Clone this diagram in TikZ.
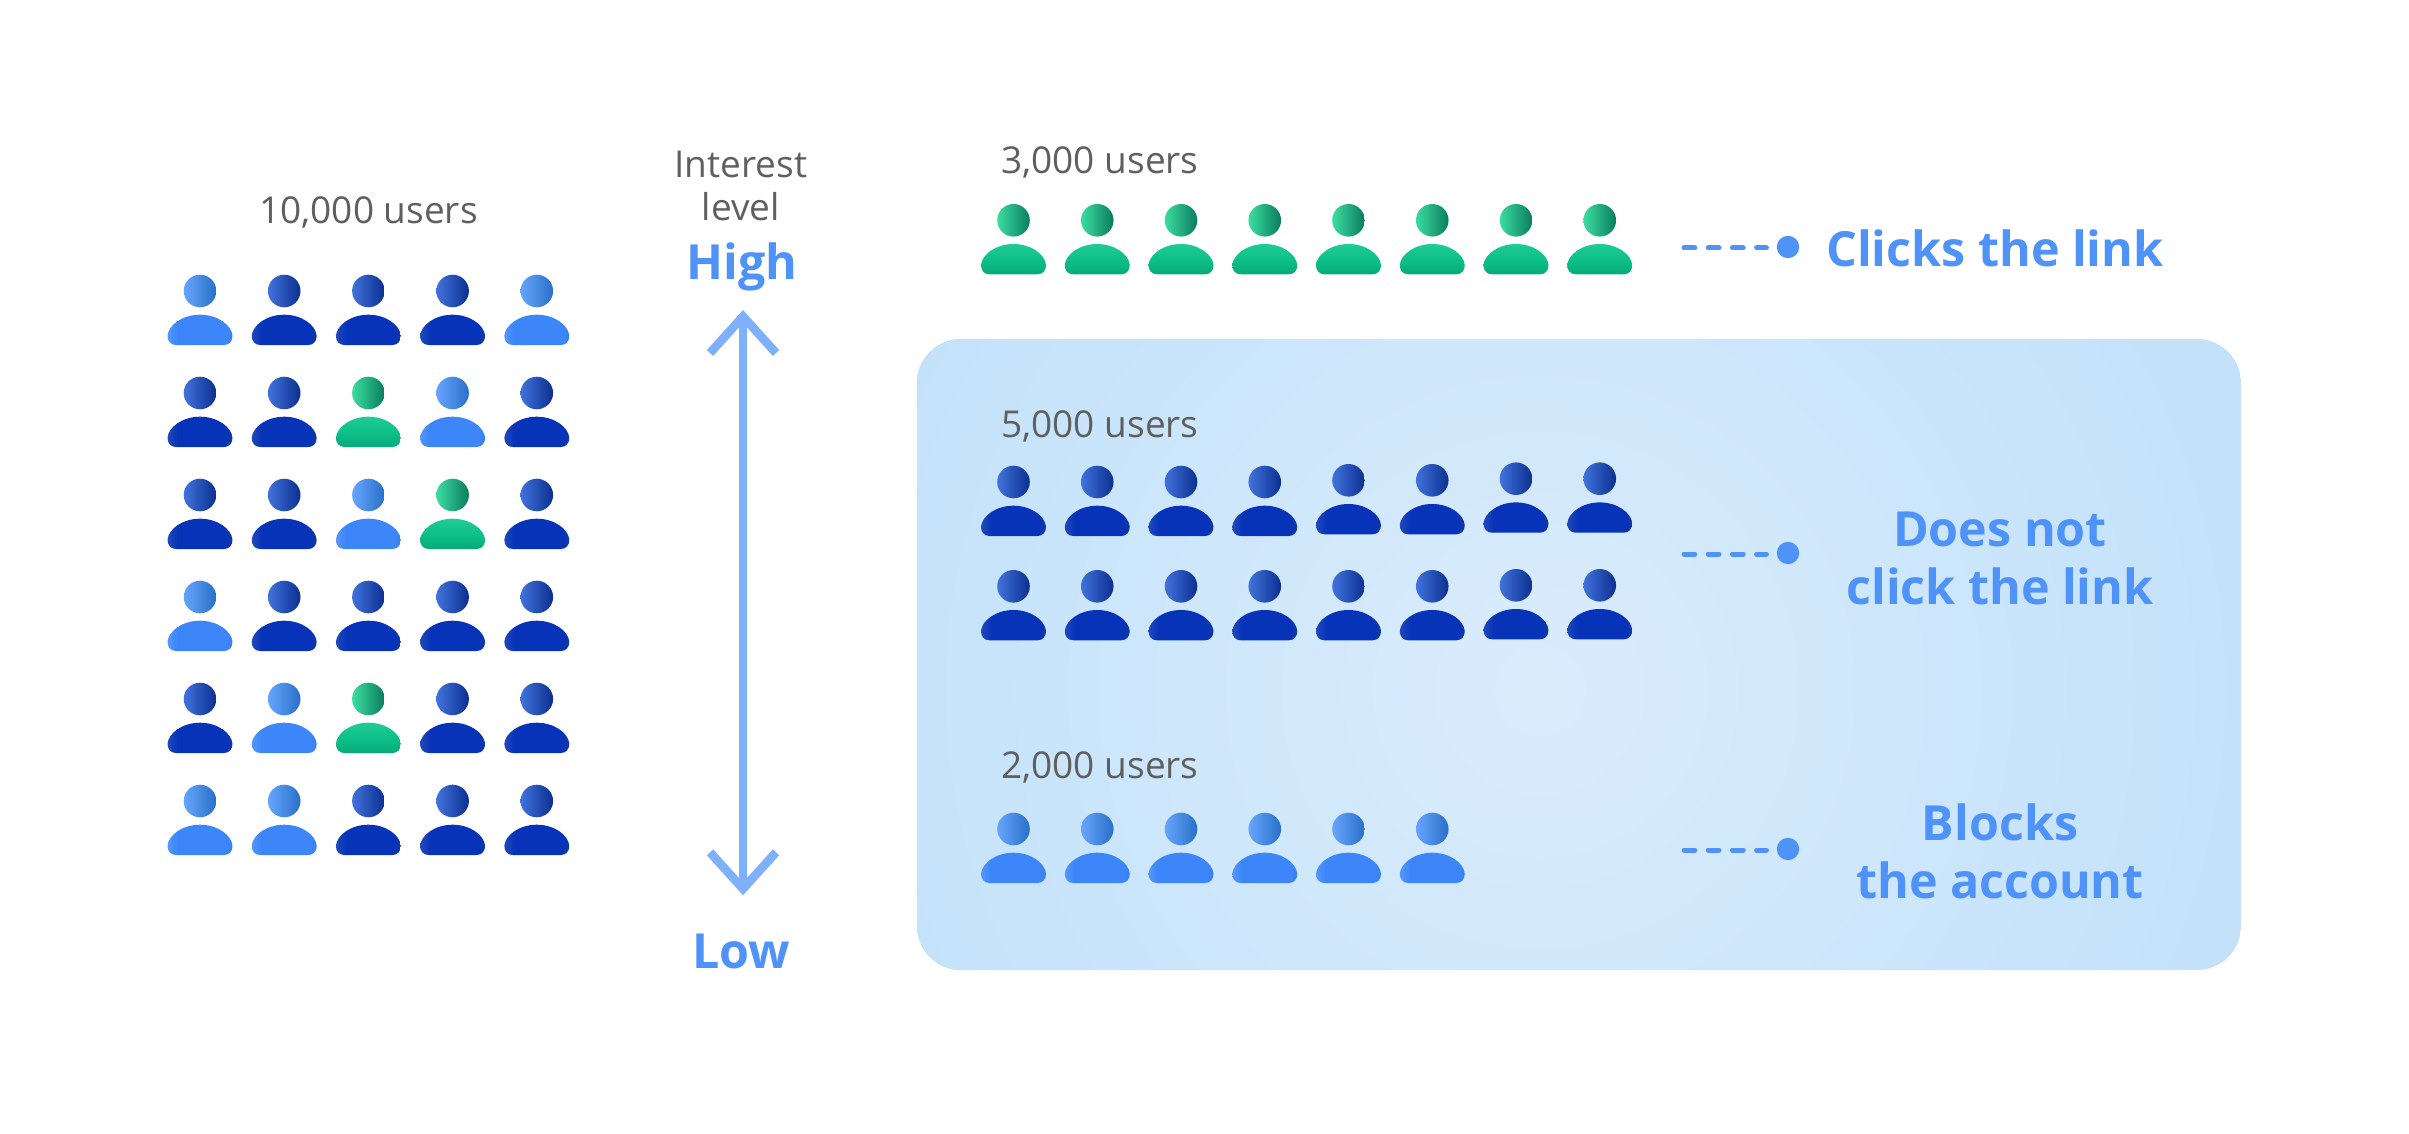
\documentclass[tikz,border=0pt]{standalone}
\usepackage{fontspec}
\setmainfont{Open Sans}
\definecolor{txtgray}{HTML}{5F5F5F}
\definecolor{lblblue}{HTML}{4F92F8}
\definecolor{arrowblue}{HTML}{7FB0FB}
\definecolor{boxedge}{HTML}{C3E2FA}
\definecolor{boxmid}{HTML}{DAECFC}
\definecolor{headDa}{HTML}{4173DC}\definecolor{headDb}{HTML}{0A36B8}\definecolor{headDc}{HTML}{0C2F90}
\definecolor{headLa}{HTML}{68A5FD}\definecolor{headLb}{HTML}{3F88F8}\definecolor{headLc}{HTML}{2870C8}
\definecolor{headGa}{HTML}{3CDDA0}\definecolor{headGb}{HTML}{0EBC87}\definecolor{headGc}{HTML}{0A7C5F}
\definecolor{bodyDa}{HTML}{2049BC}\definecolor{bodyDb}{HTML}{0633B8}\definecolor{bodyDc}{HTML}{123A9C}
\definecolor{bodyLa}{HTML}{5597FA}\definecolor{bodyLb}{HTML}{3D86FA}\definecolor{bodyLc}{HTML}{3A80EA}
\definecolor{bodyGa}{HTML}{1ECD95}\definecolor{bodyGb}{HTML}{0BBC85}\definecolor{bodyGc}{HTML}{07AA7A}
\pgfdeclarehorizontalshading{shBodyD}{100bp}{color(0bp)=(bodyDa);color(25bp)=(bodyDa);color(33bp)=(bodyDb);color(70bp)=(bodyDb);color(75bp)=(bodyDc);color(100bp)=(bodyDc)}
\pgfdeclarehorizontalshading{shBodyL}{100bp}{color(0bp)=(bodyLa);color(25bp)=(bodyLa);color(32bp)=(bodyLb);color(70bp)=(bodyLb);color(75bp)=(bodyLc);color(100bp)=(bodyLc)}
\pgfdeclareverticalshading{shBodyG}{100bp}{color(0bp)=(bodyGc);color(25bp)=(bodyGc);color(45bp)=(bodyGb);color(75bp)=(bodyGa);color(100bp)=(bodyGa)}
\tikzset{
  graytext/.style={text=txtgray,font=\fontsize{18.5}{21.5}\selectfont,inner sep=0pt,align=center},
  labeltext/.style={text=lblblue,font=\bfseries\fontsize{24.2}{28.7}\selectfont,inner sep=0pt,align=center},
  dashline/.style={lblblue,line width=2.5pt,line cap=round,dash pattern=on 5.4pt off 6.7pt,shorten >=5pt},
  enddot/.style={circle,fill=lblblue,draw=none,minimum size=11.2pt,inner sep=0pt},
  barline/.style={arrowblue,line width=4.35pt,line cap=butt,line join=miter},
  headD/.style={left color=headDa,middle color=headDb,right color=headDc},
  headL/.style={left color=headLa,middle color=headLb,right color=headLc},
  headG/.style={left color=headGa,middle color=headGb,right color=headGc},
  bodyD/.style={shading=shBodyD},
  bodyL/.style={shading=shBodyL},
  bodyG/.style={shading=shBodyG},
}
% #1 x, #2 head y, #3 colour letter
\newcommand{\person}[3]{%
  \begin{scope}[shift={(#1,#2)}]
    \shade[head#3] (0,0) circle [radius=8.15pt];
    \shade[body#3] (-32.5,44.7) .. controls (-32.5,50) and (-29.5,54) .. (-24,54)
      -- (24,54) .. controls (29.5,54) and (32.5,50) .. (32.5,44.7)
      .. controls (31.5,34) and (17.5,23.7) .. (0,23.7)
      .. controls (-17.5,23.7) and (-31.5,34) .. (-32.5,44.7) -- cycle;
  \end{scope}}
\begin{document}
\begin{tikzpicture}[x=0.5pt,y=-0.5pt]
\useasboundingbox (0,0) rectangle (2409,1134);
\fill[white] (0,0) rectangle (2409,1134);
% panel
\begin{scope}
  \clip[rounded corners=22pt] (917,339) rectangle (2241,970);
  \fill[boxedge] (917,339) rectangle (2241,970);
  \shade[inner color=boxmid,outer color=boxedge] (1540,690) circle [radius=350pt];
\end{scope}
% left crowd
\foreach \c [count=\i from 0] in {L,D,D,D,L}{\person{200+84.2*\i}{291}{\c}}
\foreach \c [count=\i from 0] in {D,D,G,L,D}{\person{200+84.2*\i}{393}{\c}}
\foreach \c [count=\i from 0] in {D,D,L,G,D}{\person{200+84.2*\i}{495}{\c}}
\foreach \c [count=\i from 0] in {L,D,D,D,D}{\person{200+84.2*\i}{597}{\c}}
\foreach \c [count=\i from 0] in {D,L,G,D,D}{\person{200+84.2*\i}{699}{\c}}
\foreach \c [count=\i from 0] in {L,L,D,D,D}{\person{200+84.2*\i}{801}{\c}}
% right crowds
\foreach \i in {0,...,7}{\person{1013.5+83.75*\i}{220.3}{G}}
\foreach \y [count=\i from 0] in {482,482,482,482,480.3,480.3,478.7,478.7}{\person{1013.5+83.75*\i}{\y}{D}}
\foreach \y [count=\i from 0] in {586.3,586.3,586.3,586.3,586.3,586.3,585.3,585.3}{\person{1013.5+83.75*\i}{\y}{D}}
\foreach \i in {0,...,5}{\person{1013.5+83.75*\i}{829}{L}}
% texts
\node[graytext] (total) at (368.5,212) {10,000 users};
\node[graytext] (n3) at (1100,162) {3,000 users};
\node[graytext] (n5) at (1100,426) {5,000 users};
\node[graytext] (n2) at (1100,767) {2,000 users};
\node[graytext] (interest) at (741,186) {Interest\\level};
\node[labeltext] (high) at (742,267) {High};
\node[labeltext] (low) at (741,951) {Low};
\node[labeltext] (clicks) at (1995,248) {Clicks the link};
\node[labeltext] (notclick) at (2000,558.5) {Does not\\click the link};
\node[labeltext] (blocks) at (2000,851.5) {Blocks\\the account};
% interest arrow
\coordinate (atop) at (743,316.5);
\coordinate (abot) at (743,888.8);
\draw[barline] (atop) -- (abot);
\draw[barline] (atop) ++(-33,36.5) -- (atop) -- ++(33,36.5);
\draw[barline] (abot) ++(-33,-36.5) -- (abot) -- ++(33,-36.5);
% connectors
\node[enddot] (d1) at (1788,247) {};
\node[enddot] (d2) at (1788,553) {};
\node[enddot] (d3) at (1788,849) {};
\coordinate (s1) at (1684,248);
\coordinate (s2) at (1684,554);
\coordinate (s3) at (1684,850);
\draw[dashline] (s1) -- (d1.west |- s1);
\draw[dashline] (s2) -- (d2.west |- s2);
\draw[dashline] (s3) -- (d3.west |- s3);
\end{tikzpicture}
\end{document}
